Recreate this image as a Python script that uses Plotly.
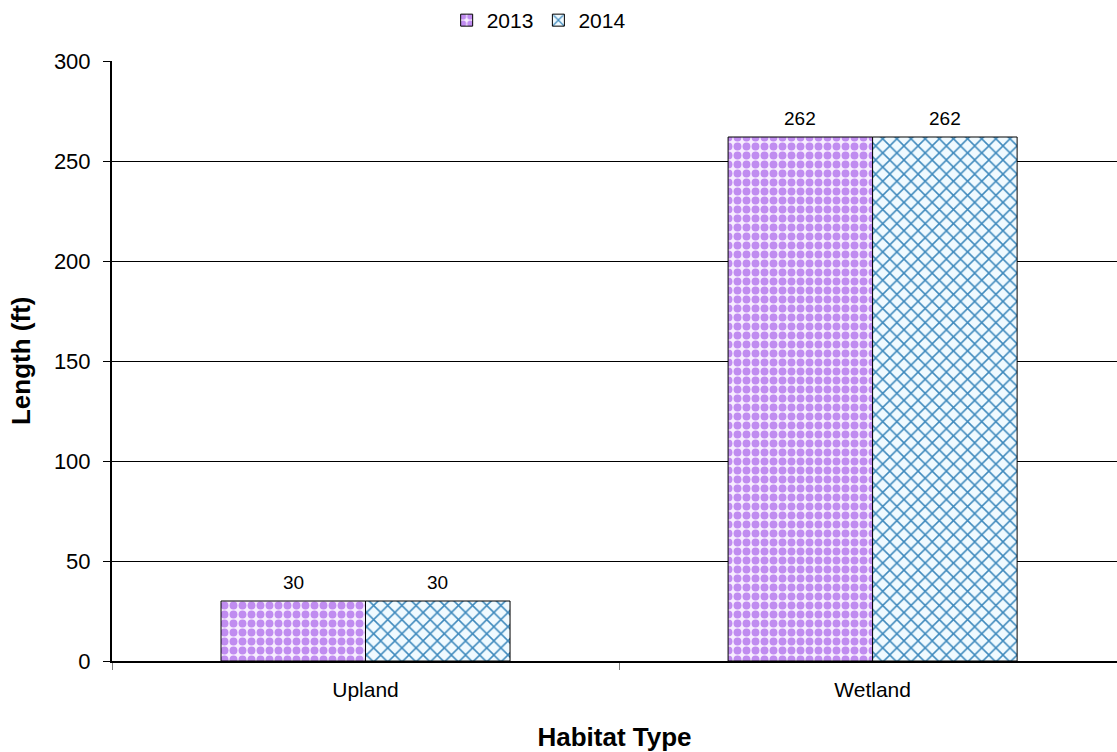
import plotly.graph_objects as go

habitats = ["Upland", "Wetland"]
years = ["2013", "2014"]
length_2013 = [30, 262]
length_2014 = [30, 262]

font_family = "Liberation Sans, Arial, sans-serif"
bar_offset = 0.1425  # half of a single bar's width, in category units

fig = go.Figure()
fig.add_trace(go.Bar(
    name=years[0], x=habitats, y=length_2013,
    marker=dict(
        color="#f3e6ff",
        line=dict(color="#000000", width=1),
        pattern=dict(shape=".", fgcolor="#c08cf0", bgcolor="#f7edff",
                     size=9, solidity=0.6, fillmode="replace"),
    ),
))
fig.add_trace(go.Bar(
    name=years[1], x=habitats, y=length_2014,
    marker=dict(
        color="#f0faff",
        line=dict(color="#000000", width=1),
        pattern=dict(shape="x", fgcolor="#3f8abd", bgcolor="#f0faff",
                     size=10, solidity=0.28, fillmode="replace"),
    ),
))

# value labels above each bar
for i, cat in enumerate(habitats):
    for vals, sign in ((length_2013, -1), (length_2014, 1)):
        fig.add_annotation(
            x=i + sign * bar_offset, y=vals[i], text=str(vals[i]),
            showarrow=False, yanchor="bottom", yshift=6,
            font=dict(size=19, color="#000000"),
        )

# y-axis title placed near the left edge
fig.add_annotation(
    text="<b>Length (ft)</b>", textangle=-90,
    xref="paper", yref="paper", x=-0.0905, y=0.5,
    xanchor="center", yanchor="middle", showarrow=False,
    font=dict(size=26, color="#000000"),
)

fig.update_layout(
    width=1117, height=752,
    margin=dict(l=112, r=0, t=61, b=91),
    paper_bgcolor="#ffffff", plot_bgcolor="#ffffff",
    font=dict(family=font_family, size=21, color="#000000"),
    barmode="group", bargap=0.43, bargroupgap=0,
    legend=dict(orientation="h", x=0.333, xanchor="left", y=1.0,
                yref="container", yanchor="top",
                font=dict(size=21), itemwidth=30, tracegroupgap=0),
    xaxis=dict(
        range=[-0.5, 1.482],
        showline=True, linecolor="#000000", linewidth=2,
        ticks="outside", tickson="boundaries", ticklen=7,
        tickcolor="#808080", tickwidth=1,
        tickfont=dict(size=21), ticklabelstandoff=9,
        title=dict(text="<b>Habitat Type</b>", font=dict(size=26), standoff=28),
        showgrid=False,
    ),
    yaxis=dict(
        range=[0, 300], tickvals=[0, 50, 100, 150, 200, 250, 300],
        showline=True, linecolor="#000000", linewidth=2,
        ticks="outside", ticklen=7, tickcolor="#000000", tickwidth=1,
        tickfont=dict(size=22), ticklabelstandoff=8,
        showgrid=True, gridcolor="#000000", gridwidth=1,
        zeroline=False,
    ),
)

fig.write_html("out.html")
